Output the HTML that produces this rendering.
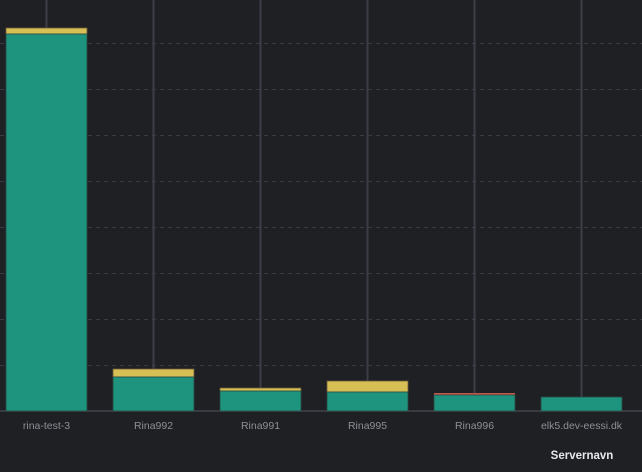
<!DOCTYPE html>
<html><head><style>
html,body{margin:0;padding:0;background:#1f2024;}
svg{display:block}
text{font-family:"Liberation Sans",sans-serif;}
</style></head><body>
<svg width="642" height="472" viewBox="0 0 642 472">
<rect width="642" height="472" fill="#1f2024"/>
<g stroke="#3a3b42" stroke-width="1" stroke-dasharray="4,4">
<line x1="0" y1="43.5" x2="642" y2="43.5"/>
<line x1="0" y1="89.5" x2="642" y2="89.5"/>
<line x1="0" y1="135.5" x2="642" y2="135.5"/>
<line x1="0" y1="181.5" x2="642" y2="181.5"/>
<line x1="0" y1="227.5" x2="642" y2="227.5"/>
<line x1="0" y1="273.5" x2="642" y2="273.5"/>
<line x1="0" y1="319.5" x2="642" y2="319.5"/>
<line x1="0" y1="365.5" x2="642" y2="365.5"/>
</g>
<line x1="0" y1="411" x2="642" y2="411" stroke="#3a3b42" stroke-width="2"/>
<g stroke="#3c3d46" stroke-width="2">
<line x1="46.5" y1="0" x2="46.5" y2="28"/>
<line x1="153.5" y1="0" x2="153.5" y2="369"/>
<line x1="260.5" y1="0" x2="260.5" y2="388"/>
<line x1="367.5" y1="0" x2="367.5" y2="381"/>
<line x1="474.5" y1="0" x2="474.5" y2="393"/>
<line x1="581.5" y1="0" x2="581.5" y2="397"/>
</g>
<g stroke="#2a4a40" stroke-width="0.8">
<rect x="6" y="28" width="81" height="6" fill="#d6bf55" stroke="#6b5a3a"/>
<rect x="6" y="34" width="81" height="377" fill="#1e937e"/>
<rect x="113" y="369" width="81" height="8" fill="#d6bf55" stroke="#6b5a3a"/>
<rect x="113" y="377" width="81" height="34" fill="#1e937e"/>
<rect x="220" y="388" width="81" height="3" fill="#d6bf55" stroke="#6b5a3a"/>
<rect x="220" y="391" width="81" height="20" fill="#1e937e"/>
<rect x="327" y="381" width="81" height="11" fill="#d6bf55" stroke="#6b5a3a"/>
<rect x="327" y="392" width="81" height="19" fill="#1e937e"/>
<rect x="434" y="393" width="81" height="2" fill="#c0584a" stroke="none"/>
<rect x="434" y="395" width="81" height="16" fill="#1e937e"/>
<rect x="541" y="397" width="81" height="14" fill="#1e937e"/>
</g>
<g fill="#8e8f96" font-size="10.5" text-anchor="middle">
<text x="46.5" y="429">rina-test-3</text>
<text x="153.5" y="429">Rina992</text>
<text x="260.5" y="429">Rina991</text>
<text x="367.5" y="429">Rina995</text>
<text x="474.5" y="429">Rina996</text>
<text x="581.5" y="429">elk5.dev-eessi.dk</text>
</g>
<text x="582" y="459" fill="#e8e8ea" font-size="11.5" font-weight="bold" text-anchor="middle">Servernavn</text>
</svg>
</body></html>
